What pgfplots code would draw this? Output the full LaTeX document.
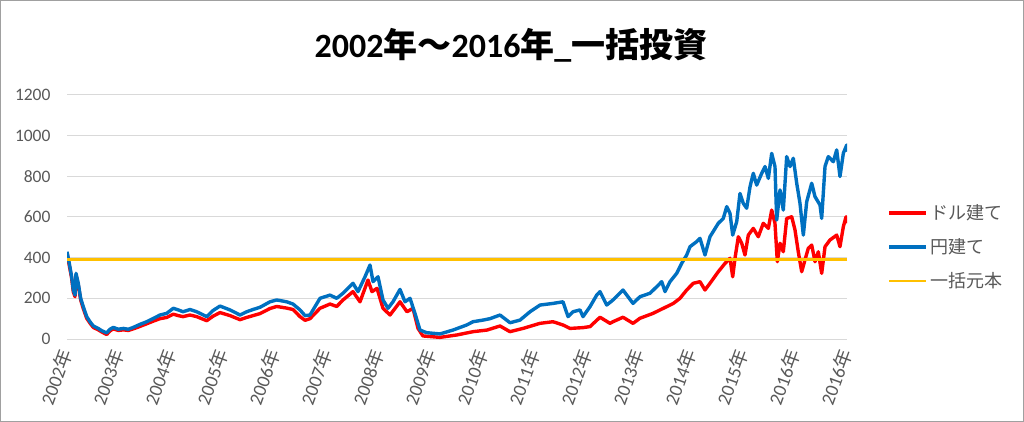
\documentclass[border=0pt]{standalone}
\usepackage{fontspec}
\setmainfont{Carlito}
\newfontfamily\jp{Noto Sans CJK JP}
\usepackage{pgfplots}
\usepackage{pgfplotstable}
\pgfplotsset{compat=1.18}
\definecolor{cRed}{HTML}{FF0000}
\definecolor{cBlue}{HTML}{0070C0}
\definecolor{cYel}{HTML}{FFC000}
\definecolor{cGrid}{HTML}{D9D9D9}
\definecolor{cTxt}{HTML}{595959}
\definecolor{cFrame}{HTML}{A0A0A0}
\newcommand{\nen}{{\jp 年}}

\pgfplotstableread{
x y
0.000 429
0.044 372
0.090 306
0.121 241
0.154 216
0.173 323
0.217 274
0.263 200
0.313 159
0.379 110
0.442 85
0.506 64
0.602 52
0.667 41
0.763 30
0.827 48
0.890 57
0.987 48
1.083 52
1.179 48
1.275 57
1.404 72
1.533 85
1.660 101
1.788 118
1.917 126
2.044 151
2.140 143
2.231 134
2.365 145
2.494 134
2.687 110
2.808 140
2.942 162
3.135 143
3.327 118
3.456 134
3.577 145
3.712 156
3.904 183
4.033 192
4.225 183
4.346 172
4.481 143
4.577 115
4.673 118
4.865 200
5.058 216
5.187 200
5.308 225
5.500 274
5.596 233
5.731 306
5.827 364
5.885 282
5.981 306
6.077 192
6.173 151
6.269 183
6.404 244
6.500 183
6.596 200
6.692 126
6.788 44
6.917 31
7.173 25
7.423 44
7.687 69
7.808 85
8.000 93
8.135 100
8.327 118
8.519 80
8.712 93
8.904 134
9.096 167
9.346 175
9.538 183
9.635 110
9.731 134
9.865 143
9.923 110
10.058 159
10.187 216
10.250 233
10.379 167
10.500 192
10.692 241
10.885 175
11.019 208
11.212 225
11.340 257
11.437 282
11.500 233
11.596 282
11.725 323
11.821 372
11.917 413
11.981 454
12.110 479
12.173 495
12.269 413
12.365 503
12.525 569
12.621 593
12.687 651
12.750 618
12.802 511
12.879 577
12.942 716
13.006 667
13.071 643
13.135 749
13.198 815
13.263 757
13.360 815
13.423 848
13.487 790
13.552 913
13.615 848
13.648 585
13.712 733
13.775 634
13.840 897
13.904 848
13.967 889
14.033 766
14.096 667
14.160 511
14.225 675
14.321 766
14.385 700
14.481 659
14.513 593
14.577 848
14.640 897
14.737 872
14.802 930
14.865 799
14.929 913
14.994 954
15.000 921
}\yen

\pgfplotstableread{
x y
0.000 425
0.044 362
0.090 298
0.121 232
0.154 208
0.173 312
0.217 265
0.263 192
0.313 150
0.379 102
0.442 78
0.506 57
0.602 45
0.667 35
0.763 22
0.827 40
0.890 50
0.987 42
1.083 45
1.179 42
1.275 50
1.404 62
1.533 75
1.660 88
1.788 100
1.917 106
2.044 122
2.140 115
2.231 110
2.365 118
2.494 110
2.687 90
2.808 112
2.942 130
3.135 115
3.327 95
3.456 106
3.577 115
3.712 125
3.904 150
4.033 160
4.225 152
4.346 145
4.481 110
4.577 92
4.673 100
4.865 151
5.058 172
5.187 160
5.308 192
5.500 233
5.635 183
5.788 290
5.865 233
5.962 249
6.077 151
6.212 118
6.404 183
6.538 134
6.654 151
6.750 52
6.846 15
7.173 8
7.500 20
7.808 36
8.077 44
8.327 64
8.519 36
8.769 52
9.096 77
9.346 85
9.538 69
9.673 52
9.923 56
10.058 61
10.250 107
10.442 77
10.500 85
10.692 107
10.885 77
11.019 102
11.269 126
11.404 143
11.533 159
11.660 175
11.788 200
11.917 241
12.044 274
12.173 282
12.269 241
12.365 274
12.525 331
12.654 372
12.750 397
12.802 306
12.846 397
12.910 503
12.975 471
13.038 413
13.102 511
13.198 544
13.294 503
13.390 569
13.487 544
13.552 634
13.615 569
13.660 380
13.712 471
13.775 429
13.840 593
13.937 601
14.000 536
14.063 429
14.129 331
14.192 389
14.256 446
14.321 462
14.385 380
14.448 429
14.513 323
14.577 454
14.673 487
14.802 511
14.865 454
14.929 552
14.981 601
15.000 569
}\dollar

\begin{document}
\begin{tikzpicture}
\useasboundingbox (-67bp,-83bp) rectangle (957bp,339bp);
\begin{axis}[
  scale only axis, width=780bp, height=244bp,
  xmin=0, xmax=15, ymin=0, ymax=1200,
  xtick={0,...,15},
  xticklabels={2002\nen,2003\nen,2004\nen,2005\nen,2006\nen,2007\nen,2008\nen,2009\nen,2010\nen,2011\nen,2012\nen,2013\nen,2014\nen,2015\nen,2016\nen,2016\nen},
  ytick={0,200,...,1200},
  ymajorgrids, grid style={cGrid, line width=1bp},
  axis line style={draw=none},
  major tick length=0pt,
  tick label style={font=\fontsize{17.5bp}{20bp}\selectfont, text=cTxt},
  /pgf/number format/assume math mode=true,
  /pgf/number format/1000 sep={},
  yticklabel style={xshift=-13bp},
  xticklabel style={font=\fontsize{19bp}{21bp}\selectfont, yshift=-8bp, xshift=0bp, rotate=70, anchor=east},
  legend style={draw=none, fill=none, at={(1.048,0.377)}, anchor=west,
    font=\jp\fontsize{18bp}{21bp}\selectfont, text=cTxt, row sep=13.5bp},
  legend cell align=left,
  legend image code/.code={\draw[#1] (0bp,0bp) -- (37bp,0bp);},
  every axis plot/.append style={line join=round},
]
\addplot[cRed, line width=3.4bp] table {\dollar};
\addlegendentry{ドル建て}
\addplot[cBlue, line width=3.4bp] table {\yen};
\addlegendentry{円建て}
\addplot[cYel, line width=2.8bp] coordinates {(0,390) (15,390)};
\addlegendentry{一括元本}
\end{axis}
\node[font=\fontsize{34bp}{38bp}\selectfont\bfseries, text=black] at (444bp,294bp)
  {2002{\jp\bfseries 年～}2016{\jp\bfseries 年}\_{\jp\bfseries 一括投資}};
\draw[cFrame, line width=1bp] (-66.5bp,-82.5bp) rectangle (956.5bp,338.5bp);
\end{tikzpicture}
\end{document}
